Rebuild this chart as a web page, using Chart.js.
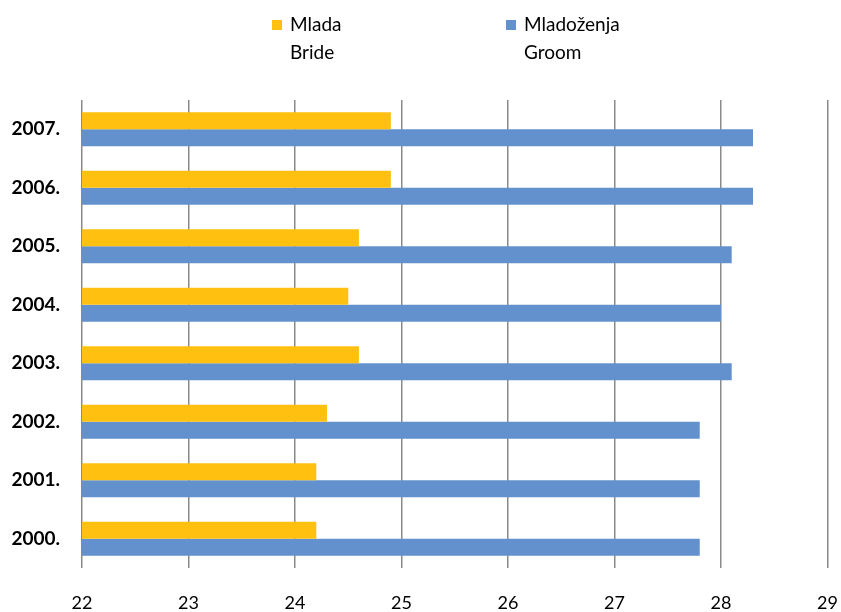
<!DOCTYPE html>
<html>
<head>
<meta charset="utf-8">
<script src="https://cdn.jsdelivr.net/npm/chart.js@4/dist/chart.umd.min.js"></script>
<style>
  html, body { margin: 0; padding: 0; background: #fff; }
  #wrap { width: 841px; height: 612px; }
</style>
</head>
<body>
<div id="wrap"><canvas id="chart"></canvas></div>
<script>
// godine (odozdo prema gore)
const godine = ['2000.', '2001.', '2002.', '2003.', '2004.', '2005.', '2006.', '2007.'];
// prosječna starost
const mlada = [24.2, 24.2, 24.3, 24.6, 24.5, 24.6, 24.9, 24.9];
const mladozenja = [27.8, 27.8, 27.8, 28.1, 28.0, 28.1, 28.3, 28.3];
const xTicks = [22, 23, 24, 25, 26, 27, 28, 29];

// legenda u dva reda (hr / en), crtana iznad grafa
const legendaX = [272, 506];
const dvoredLegenda = {
  id: 'dvoredLegenda',
  afterDraw(chart) {
    const c = chart.ctx;
    c.save();
    c.font = '19px Lato';
    c.textBaseline = 'middle';
    chart.data.datasets.forEach((ds, i) => {
      const x = legendaX[i];
      c.fillStyle = ds.backgroundColor;
      c.fillRect(x, 20, 10, 10);
      c.fillStyle = '#000';
      ds.label.forEach((red, j) => c.fillText(red, x + 18, 25 + j * 28));
    });
    c.restore();
  }
};

const ctx = document.getElementById('chart');

new Chart(ctx, {
  type: 'bar',
  data: {
    labels: godine,
    datasets: [
      { label: ['Mlada', 'Bride'], data: mlada, backgroundColor: '#FFC010' },
      { label: ['Mladoženja', 'Groom'], data: mladozenja, backgroundColor: '#6391CD' }
    ]
  },
  options: {
    indexAxis: 'y',
    responsive: true,
    maintainAspectRatio: false,
    animation: false,
    datasets: { bar: { categoryPercentage: 0.58, barPercentage: 1 } },
    layout: { padding: { left: 8, right: 0, top: 100, bottom: 0 } },
    plugins: {
      tooltip: { enabled: false },
      legend: { display: false }
    },
    scales: {
      x: {
        min: xTicks[0],
        max: xTicks[xTicks.length - 1],
        afterFit(scale) { scale.height = 44; },
        ticks: {
          stepSize: 1,
          color: '#000',
          padding: 3,
          font: { family: 'Lato', size: 18 }
        },
        grid: { color: '#8a8a8a', lineWidth: 1.5, tickLength: 21, tickColor: 'rgba(0,0,0,0)' },
        border: { display: false }
      },
      y: {
        reverse: true,
        afterFit(scale) { scale.width = 74; },
        ticks: {
          color: '#000',
          padding: 14,
          font: { family: 'Lato', size: 19, weight: 'bold' }
        },
        grid: { display: false },
        border: { display: false }
      }
    }
  },
  plugins: [dvoredLegenda]
});
</script>
</body>
</html>
